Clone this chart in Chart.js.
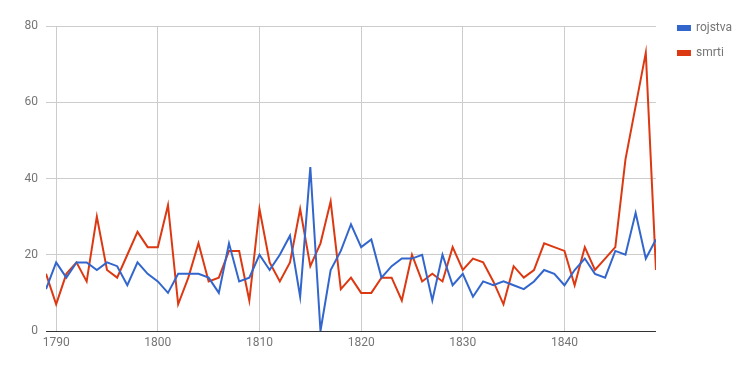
<!DOCTYPE html>
<html>
<head>
<meta charset="utf-8">
<script src="https://cdn.jsdelivr.net/npm/chart.js@4"></script>
<style>
  html, body { margin: 0; padding: 0; background: #fff; }
  #wrap { width: 754px; height: 371px; }
</style>
</head>
<body>
<div id="wrap"><canvas id="myChart"></canvas></div>
<script>
// leta 1789 - 1849
const years = []
for (let y = 1789; y <= 1849; y++) years.push(y)

const rojstva = [11, 18, 14, 18, 18, 16, 18, 17, 12, 18,
  15, 13, 10, 15, 15, 15, 14, 10, 23, 13,
  14, 20, 16, 20, 25, 9, 43, 0, 16, 21,
  28, 22, 24, 14, 17, 19, 19, 20, 8, 20,
  12, 15, 9, 13, 12, 13, 12, 11, 13, 16,
  15, 12, 16, 19, 15, 14, 21, 20, 31, 19,
  24]

const smrti = [15, 7, 15, 18, 13, 30, 16, 14, 20, 26,
  22, 22, 33, 7, 14, 23, 13, 14, 21, 21,
  8, 32, 18, 13, 18, 32, 17, 23, 34, 11,
  14, 10, 10, 14, 14, 8, 20, 13, 15, 13,
  22, 16, 19, 18, 13, 7, 17, 14, 16, 23,
  22, 21, 12, 22, 16, 19, 22, 45, 59, 73,
  16]

const xTicks = [1790, 1800, 1810, 1820, 1830, 1840]
const yTicks = [0, 20, 40, 60, 80]

const canvas = document.getElementById('myChart')
const txt = '#757575'
const font = {family: 'Roboto', size: 12}

const toPoints = vals => years.map((y, i) => ({x: y, y: vals[i]}))

const config = {
    type: 'line',
    data: {
        datasets: [{
            label: 'rojstva',
            data: toPoints(rojstva),
            borderColor: '#3366cc',
            backgroundColor: '#3366cc',
            borderWidth: 2,
            pointRadius: 0,
            tension: 0
        }, {
            label: 'smrti',
            data: toPoints(smrti),
            borderColor: '#dc3912',
            backgroundColor: '#dc3912',
            borderWidth: 2,
            pointRadius: 0,
            tension: 0
        }]
    },
    options: {
        responsive: true,
        maintainAspectRatio: false,
        animation: false,
        layout: {
            padding: {top: 9, right: 12, bottom: 0, left: 0}
        },
        plugins: {
            legend: {
                position: 'right',
                align: 'start',
                labels: {
                    boxWidth: 12,
                    boxHeight: 4,
                    padding: 13,
                    color: txt,
                    font: font
                }
            },
            tooltip: {enabled: false}
        },
        scales: {
            x: {
                type: 'linear',
                min: years[0],
                max: years[years.length - 1],
                afterBuildTicks: s => { s.ticks = xTicks.map(v => ({value: v})) },
                afterFit: s => { s.height = 40 },
                ticks: {
                    color: txt,
                    font: font,
                    padding: 5,
                    maxRotation: 0,
                    callback: v => String(v)
                },
                grid: {color: '#cccccc', drawTicks: false},
                border: {display: false}
            },
            y: {
                min: 0,
                max: 80,
                afterBuildTicks: s => { s.ticks = yTicks.map(v => ({value: v})) },
                afterFit: s => { s.width = 46 },
                ticks: {
                    color: txt,
                    font: font,
                    padding: 8
                },
                grid: {
                    color: c => c.tick && c.tick.value === 0 ? '#333333' : '#cccccc',
                    drawTicks: false
                },
                border: {display: false}
            },
            // prazni osi samo za razmik
            xTop: {
                type: 'linear',
                position: 'top',
                afterFit: s => { s.height = 17 },
                ticks: {display: false},
                grid: {display: false},
                border: {display: false}
            },
            yRight: {
                type: 'linear',
                position: 'right',
                afterFit: s => { s.width = 9 },
                ticks: {display: false},
                grid: {display: false},
                border: {display: false}
            }
        }
    }
}

const myChart = new Chart(canvas, config)
</script>
</body>
</html>
